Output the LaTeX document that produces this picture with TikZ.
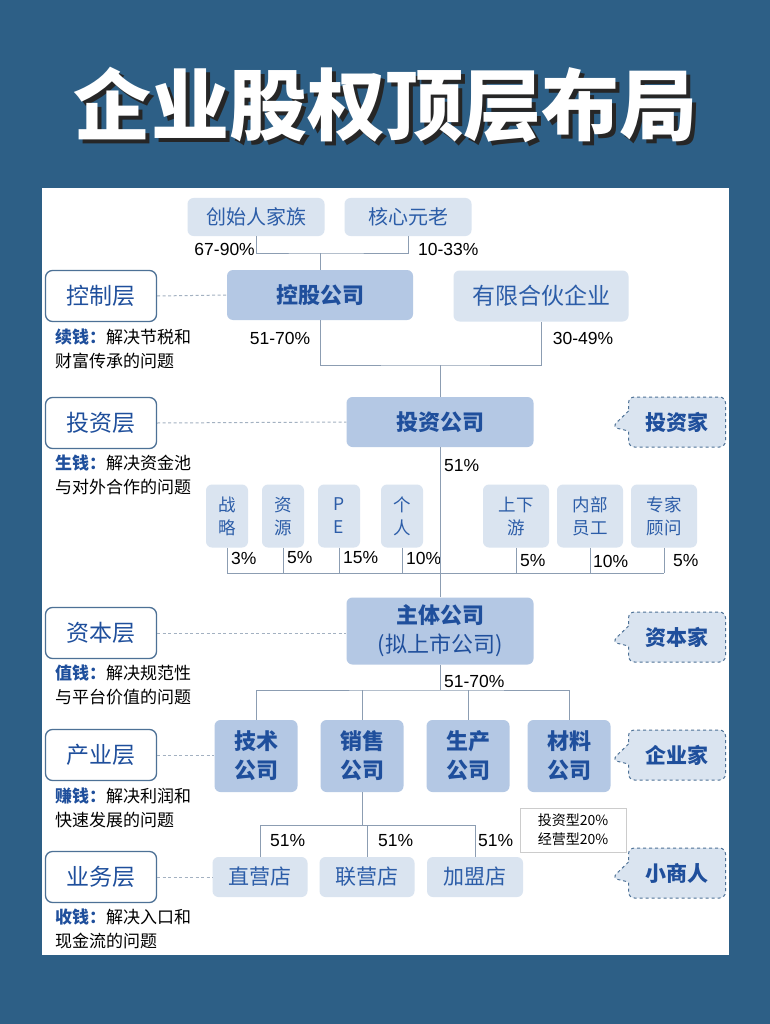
\documentclass[tikz,border=0pt]{standalone}
\usepackage{fontspec}
\setmainfont{Liberation Sans}
\newfontfamily\cjk{Noto Sans CJK SC}
\usepackage{tikz}
\usetikzlibrary{shapes.callouts,positioning}

\definecolor{bgblue}{HTML}{2D5F86}
\definecolor{lightfill}{HTML}{DAE4F0}
\definecolor{darkfill}{HTML}{B4C8E4}
\definecolor{txtblue}{HTML}{2C5DA8}
\definecolor{boldblue}{HTML}{1F4F9C}
\definecolor{linegray}{HTML}{8C9DB2}
\definecolor{layerline}{HTML}{4D7196}

\begin{document}
\begin{tikzpicture}[
        x=1pt,y=-1pt,
        light/.style={fill=lightfill,rounded corners=6pt,inner sep=0pt,font=\cjk\fontsize{20}{24}\selectfont,text=txtblue},
        dark/.style={fill=darkfill,rounded corners=6pt,inner sep=0pt,font=\cjk\bfseries\fontsize{22}{29}\selectfont,text=boldblue},
        small/.style={fill=lightfill,rounded corners=6pt,inner sep=0pt,minimum height=63pt,font=\cjk\fontsize{17.5}{23}\selectfont,text=txtblue,align=center},
        layer/.style={draw=layerline,line width=1.3pt,fill=white,rounded corners=7pt,minimum width=111pt,minimum height=51pt,font=\cjk\fontsize{23}{28}\selectfont,text=boldblue},
        bubble/.style={rectangle callout,draw=layerline,dashed,line width=1pt,fill=lightfill,rounded corners=6pt,minimum width=97pt,minimum height=50pt,callout pointer width=20pt,font=\cjk\bfseries\fontsize{21}{26}\selectfont,text=boldblue},
        note/.style={anchor=north west,align=left,inner sep=0pt,font=\cjk\fontsize{17}{23.5}\selectfont},
        pct/.style={inner sep=0pt,font=\fontsize{17.5}{20}\selectfont},
        line/.style={draw=linegray,line width=1pt},
        dotline/.style={draw=linegray!80,line width=1pt,dash pattern=on 3pt off 2.5pt}
    ]
    \useasboundingbox (0,0) rectangle (770,1024);
    \fill[bgblue] (0,0) rectangle (770,1024);
    \fill[white] (42,188) rectangle (729,955);

    % title
    \node[text=black!85,font=\cjk\bfseries\fontsize{78}{82}\selectfont] (shadow) at (389,109) {企业股权顶层布局};
    \node[text=white,font=\cjk\bfseries\fontsize{78}{82}\selectfont] (title) at (385,105) {企业股权顶层布局};

    % layers
    \node[layer] (L1) at (101,296) {控制层};
    \node[layer] (L2) at (101,423) {投资层};
    \node[layer] (L3) at (101,633) {资本层};
    \node[layer] (L4) at (101,755) {产业层};
    \node[layer] (L5) at (101,877) {业务层};
    \node[note] (n1) at (55,329) {\textcolor{boldblue}{\bfseries 续钱：}解决节税和\\财富传承的问题};
    \node[note] (n2) at (55,455) {\textcolor{boldblue}{\bfseries 生钱：}解决资金池\\与对外合作的问题};
    \node[note] (n3) at (55,665) {\textcolor{boldblue}{\bfseries 值钱：}解决规范性\\与平台价值的问题};
    \node[note] (n4) at (55,788) {\textcolor{boldblue}{\bfseries 赚钱：}解决利润和\\快速发展的问题};
    \node[note] (n5) at (55,909) {\textcolor{boldblue}{\bfseries 收钱：}解决入口和\\现金流的问题};

    % control layer
    \node[light,minimum width=137pt,minimum height=38pt] (fam) at (256,217) {创始人家族};
    \node[light,minimum width=127pt,minimum height=38pt] (elder) at (408,217) {核心元老};
    \node[dark,minimum width=186pt,minimum height=50pt] (hold) at (320,295) {控股公司};
    \node[light,minimum width=175pt,minimum height=51pt,font=\cjk\fontsize{23}{28}\selectfont] (lp) at (541,296) {有限合伙企业};
    \coordinate (j1) at (320,253);
    \draw[line] (fam.south) |- (j1) -| (elder.south);
    \draw[line] (j1) -- (hold.north);
    \node[pct,anchor=east] (p1) at (255,249) {67-90\%};
    \node[pct,anchor=west] (p2) at (418,249) {10-33\%};

    % investment layer
    \node[dark,minimum width=187pt,minimum height=50pt] (inv) at (440,422) {投资公司};
    \coordinate (j2) at (440,365);
    \draw[line] (hold.south) |- (j2) -| (lp.south);
    \draw[line] (j2) -- (inv.north);
    \node[pct] (p3) at (280,338) {51-70\%};
    \node[pct] (p4) at (583,338) {30-49\%};
    \node[bubble,callout absolute pointer={(612,427)}] (b1) at (677,422) {投资家};

    \node[small,minimum width=42pt] (s1) at (227,516) {战\\略};
    \node[small,minimum width=42pt] (s2) at (283,516) {资\\源};
    \node[small,minimum width=42pt] (s3) at (339,516) {P\\E};
    \node[small,minimum width=42pt] (s4) at (402,516) {个\\人};
    \node[small,minimum width=66pt] (s5) at (516,516) {上下\\游};
    \node[small,minimum width=66pt] (s6) at (590,516) {内部\\员工};
    \node[small,minimum width=66pt] (s7) at (664,516) {专家\\顾问};
    \coordinate (bar) at (0,573);
    \foreach \s in {s1,s2,s3,s4,s5,s6,s7}
        \draw[line] (\s.south) -- (\s.south |- bar);
    \draw[line] (s1.south |- bar) -- (s7.south |- bar);
    \node[pct,anchor=west] (q1) at (231,558) {3\%};
    \node[pct,anchor=west] (q2) at (287,558) {5\%};
    \node[pct,anchor=west] (q3) at (343,558) {15\%};
    \node[pct,anchor=west] (q4) at (406,558) {10\%};
    \node[pct,anchor=west] (q5) at (520,561) {5\%};
    \node[pct,anchor=west] (q6) at (593,561) {10\%};
    \node[pct,anchor=west] (q7) at (673,561) {5\%};

    % capital layer
    \node[dark,minimum width=187pt,minimum height=67pt,align=center] (main) at (440,631) {主体公司\\{\mdseries (拟上市公司)}};
    \draw[line] (inv.south) -- (main.north);
    \node[pct,anchor=west] (p5) at (444,466) {51\%};
    \node[bubble,callout absolute pointer={(612,642)}] (b2) at (677,637) {资本家};

    % industry layer
    \node[dark,minimum width=83pt,minimum height=72pt,align=center] (tech) at (256,756) {技术\\公司};
    \node[dark,minimum width=83pt,minimum height=72pt,align=center] (sales) at (362,756) {销售\\公司};
    \node[dark,minimum width=83pt,minimum height=72pt,align=center] (prod) at (468,756) {生产\\公司};
    \node[dark,minimum width=83pt,minimum height=72pt,align=center] (mat) at (569,756) {材料\\公司};
    \coordinate (j4) at (440,690);
    \draw[line] (main.south) -- (j4);
    \draw[line] (tech.north) |- (j4) -| (mat.north);
    \draw[line] (sales.north) -- (sales.north |- j4);
    \draw[line] (prod.north) -- (prod.north |- j4);
    \node[pct,anchor=west] (p6) at (444,681) {51-70\%};
    \node[bubble,callout absolute pointer={(612,760)}] (b3) at (677,755) {企业家};

    % business layer
    \node[light,minimum width=95pt,minimum height=40pt,font=\cjk\fontsize{21}{26}\selectfont] (d1) at (260,877) {直营店};
    \node[light,minimum width=95pt,minimum height=40pt,font=\cjk\fontsize{21}{26}\selectfont] (d2) at (367,877) {联营店};
    \node[light,minimum width=96pt,minimum height=40pt,font=\cjk\fontsize{21}{26}\selectfont] (d3) at (475,877) {加盟店};
    \coordinate (bar2) at (0,825);
    \draw[line] (sales.south) -- (sales.south |- bar2);
    \draw[line] (d1.north) -- (d1.north |- bar2) -- (d3.north |- bar2) -- (d3.north);
    \draw[line] (d2.north) -- (d2.north |- bar2);
    \node[pct,anchor=west] (r1) at (270,841) {51\%};
    \node[pct,anchor=west] (r2) at (378,841) {51\%};
    \node[pct,anchor=west] (r3) at (478,841) {51\%};
    \node[draw=black!20,line width=0.8pt,fill=white,align=center,minimum width=106pt,minimum height=44pt,inner sep=0pt,font=\cjk\fontsize{14}{19}\selectfont] (mix) at (573,830) {投资型20\%\\经营型20\%};
    \node[bubble,callout absolute pointer={(612,878)}] (b4) at (677,873) {小商人};

    % dotted guides
    \draw[dotline] (L1.east) -- (hold.west);
    \draw[dotline] (L2.east) -- (inv.west);
    \draw[dotline] (L3.east) -- (main.west |- L3.east);
    \draw[dotline] (L4.east) -- (tech.west |- L4.east);
    \draw[dotline] (L5.east) -- (d1.west);
\end{tikzpicture}
\end{document}
